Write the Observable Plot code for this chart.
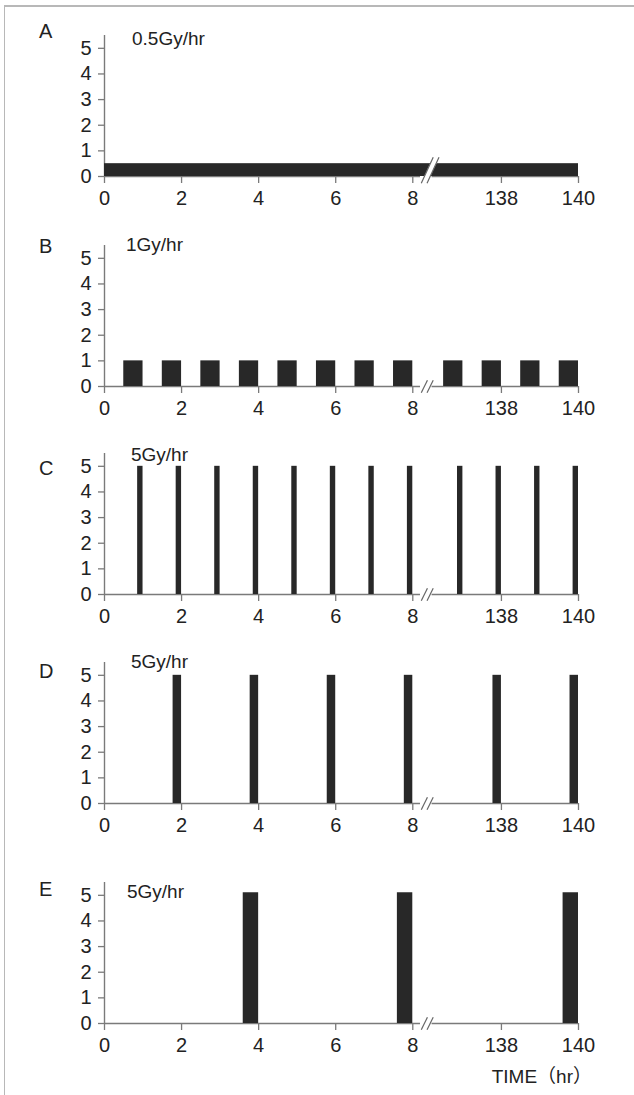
<!DOCTYPE html>
<html><head><meta charset="utf-8">
<script src="https://cdn.jsdelivr.net/npm/d3@7"></script>
<script src="https://cdn.jsdelivr.net/npm/@observablehq/plot@0.6"></script>
<style>
body{margin:0;background:#fff;}
#wrap{position:relative;width:634px;height:1095px;overflow:hidden;font-family:"Liberation Sans",Arial,Helvetica,sans-serif;color:#222;}
#frame{position:absolute;left:4px;top:5px;width:700px;height:1200px;border-left:1.5px solid #b8b8b8;border-top:2px solid #b8b8b8;}
.lbl{position:absolute;left:39px;font-size:20px;line-height:20px;}
.ttl{position:absolute;font-size:19px;line-height:19px;white-space:nowrap;}
.panel{position:absolute;left:0;}
#xtitle{position:absolute;right:42px;font-size:19px;line-height:19px;white-space:nowrap;font-family:"Liberation Sans","Noto Sans CJK JP",sans-serif;}
</style></head><body>
<div id="wrap"><div id="frame"></div></div>
<script>
// ---- data ----
const panelLetters = ["A", "B", "C", "D", "E"];
const panelTitles = ["0.5Gy/hr", "1Gy/hr", "5Gy/hr", "5Gy/hr", "5Gy/hr"];
const xTickHours = [0, 2, 4, 6, 8, 138, 140];
const yTickValues = [0, 1, 2, 3, 4, 5];
const xAxisTitle = "TIME（hr）";

const doseAStart = [0];
const doseAEnd = [140];
const doseARate = 0.5;

const doseBStart = [0.5, 1.5, 2.5, 3.5, 4.5, 5.5, 6.5, 7.5, 136.5, 137.5, 138.5, 139.5];
const doseBEnd = [1, 2, 3, 4, 5, 6, 7, 8, 137, 138, 139, 140];
const doseBRate = 1;

const doseCStart = [0.86, 1.86, 2.86, 3.86, 4.86, 5.86, 6.86, 7.86, 136.86, 137.86, 138.86, 139.86];
const doseCEnd = [1, 2, 3, 4, 5, 6, 7, 8, 137, 138, 139, 140];
const doseCRate = 5;

const doseDStart = [1.78, 3.78, 5.78, 7.78, 137.78, 139.78];
const doseDEnd = [2, 4, 6, 8, 138, 140];
const doseDRate = 5;

const doseEStart = [3.6, 7.6, 139.6];
const doseEEnd = [4, 8, 140];
const doseERate = 5.1;

// broken time axis: hours after the break are shifted left
const breakShift = 127.7;
const baselineSegments = [[0, 8.2], [136.2, 140]];
// the "//" break marks (in hours / Gy units)
const breakSlashes = [
  {h1: 8.22, g1: -0.24, h2: 8.38, g2: 0.24},
  {h1: 8.37, g1: -0.24, h2: 8.53, g2: 0.24}
];
const breakSlashesA = [
  {h1: 8.22, g1: -0.26, h2: 8.53, g2: 0.75},
  {h1: 8.37, g1: -0.26, h2: 8.68, g2: 0.75}
];
const breakGapA = {h1: 8.295, g1: -0.26, h2: 8.605, g2: 0.75};

// ---- layout ----
const zeroLines = [176, 386, 594, 803, 1023];
const letterTops = [21, 236, 458, 661, 879];
const titleTops = [29, 235, 445, 652, 882];
const titleLefts = [132, 126, 131, 131, 127];

const toU = h => h > 100 ? h - breakShift : h;
const tickLabel = new Map(xTickHours.map(h => [toU(h), String(h)]));

const panels = [
  [doseAStart, doseAEnd, doseARate],
  [doseBStart, doseBEnd, doseBRate],
  [doseCStart, doseCEnd, doseCRate],
  [doseDStart, doseDEnd, doseDRate],
  [doseEStart, doseEEnd, doseERate]
];

const wrap = document.getElementById("wrap");
const axisColor = "#7a7a7a";
const mTop = 10, mBottom = 44, plotH = 141;

panels.forEach(([starts, ends, rate], i) => {
  const rows = starts.map((s, k) => ({x1: toU(s), x2: toU(ends[k]), y: rate}));
  const marks = [
    Plot.ruleY(baselineSegments, {y: 0, x1: d => toU(d[0]), x2: d => toU(d[1]), stroke: axisColor, strokeWidth: 1.4}),
    Plot.ruleX([0], {stroke: axisColor, strokeWidth: 1.4}),
    Plot.rectY(rows, {x1: "x1", x2: "x2", y: "y", fill: "#282828"}),
    Plot.axisX(xTickHours.map(toU), {tickFormat: d => tickLabel.get(d), tickSize: 7, tickPadding: 7, fontSize: 20, stroke: axisColor, strokeWidth: 1.3, label: null}),
    Plot.axisY(yTickValues, {tickSize: 6, tickPadding: 7, fontSize: 20, stroke: axisColor, strokeWidth: 1.3, label: null})
  ];
  if (i === 0) {
    marks.push(Plot.link([breakGapA], {x1: d => toU(d.h1), y1: "g1", x2: d => toU(d.h2), y2: "g2", stroke: "white", strokeWidth: 5.5}));
    marks.push(Plot.link(breakSlashesA, {x1: d => toU(d.h1), y1: "g1", x2: d => toU(d.h2), y2: "g2", stroke: "#666", strokeWidth: 1.2}));
  } else {
    marks.push(Plot.link(breakSlashes, {x1: d => toU(d.h1), y1: "g1", x2: d => toU(d.h2), y2: "g2", stroke: "#666", strokeWidth: 1.2}));
  }
  const chart = Plot.plot({
    width: 634,
    height: mTop + plotH + mBottom,
    marginLeft: 104,
    marginRight: 56,
    marginTop: mTop,
    marginBottom: mBottom,
    x: {domain: [0, toU(140)]},
    y: {domain: [0, 5.5]},
    style: {fontFamily: "'Liberation Sans', Arial, sans-serif", color: "#222", background: "transparent", overflow: "visible"},
    marks
  });
  chart.classList.add("panel");
  chart.style.top = (zeroLines[i] - plotH - mTop) + "px";
  wrap.appendChild(chart);

  const L = document.createElement("div");
  L.className = "lbl";
  L.textContent = panelLetters[i];
  L.style.top = letterTops[i] + "px";
  wrap.appendChild(L);

  const T = document.createElement("div");
  T.className = "ttl";
  T.textContent = panelTitles[i];
  T.style.top = titleTops[i] + "px";
  T.style.left = titleLefts[i] + "px";
  wrap.appendChild(T);
});

const X = document.createElement("div");
X.id = "xtitle";
X.textContent = xAxisTitle;
X.style.top = "1067px";
wrap.appendChild(X);
</script>
</body></html>
